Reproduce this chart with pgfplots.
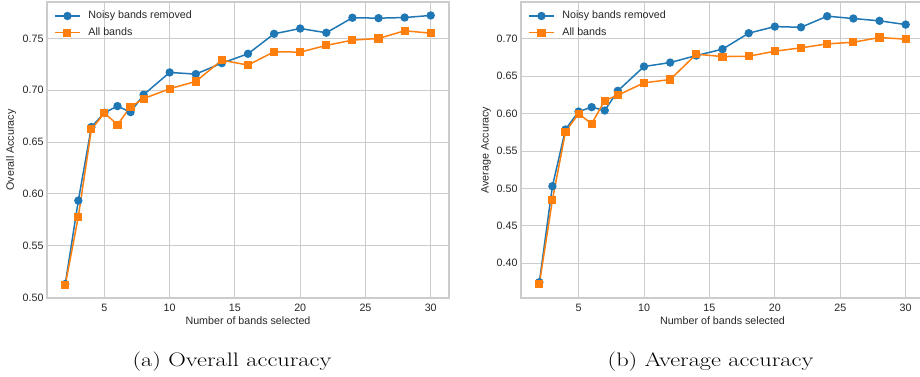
\documentclass[border=0pt]{standalone}
\usepackage{fontspec}
\usepackage{graphicx}
\usepackage{pgfplots}
\pgfplotsset{compat=1.18}
\newfontfamily\arialfont{Liberation Sans}
\definecolor{mplblue}{HTML}{1F77B4}
\definecolor{mplorange}{HTML}{FF7F0E}
\definecolor{gridgray}{HTML}{CCCCCC}
\definecolor{txt}{HTML}{262626}
\pgfplotsset{
  sbstyle/.style={
    scale only axis,
    anchor=south west,
    height=296pt,
    xmin=0.6, xmax=31.4,
    xtick={5,10,15,20,25,30},
    grid=major,
    major grid style={draw=gridgray, line width=1pt},
    axis line style={draw=gridgray, line width=1.25pt},
    major tick length=0pt,
    tick label style={font=\arialfont\fontsize{10.7}{12}\selectfont, text=txt},
    /pgf/number format/assume math mode=true,
    yticklabel style={/pgf/number format/.cd, fixed, fixed zerofill, precision=2},
    xticklabel style={yshift=-2.5pt},
    every axis x label/.style={at={(rel axis cs:0.5,0)}, anchor=base, yshift=-26.6pt,
      font=\arialfont\fontsize{10.7}{12}\selectfont, text=txt},
    legend style={at={(rel axis cs:0,1)}, anchor=north west, xshift=7pt, yshift=-8.5pt,
      draw=none, fill=none, inner sep=0pt, row sep=6pt, column sep=7.7pt,
      font=\arialfont\fontsize{10.7}{12}\selectfont, text=txt,
      nodes={inner sep=0pt, text height=8pt, text depth=2.6pt}},
    legend cell align=left,
    legend image code/.code={\draw[mark repeat=2,mark phase=2,#1] plot coordinates {(0pt,0pt) (12.5pt,0pt) (25pt,0pt)};},
  },
  blueline/.style={color=mplblue, line width=1.5pt, mark=*, mark size=3.4pt, mark options={solid}},
  orangeline/.style={color=mplorange, line width=1.5pt, mark=square*, mark size=3.3pt, mark options={solid}},
}
\begin{document}
\begin{tikzpicture}
\useasboundingbox (0pt,0pt) rectangle (920pt,377pt);
\begin{axis}[sbstyle, at={(47pt,79pt)}, width=402pt,
  ymin=0.4995, ymax=0.7852,
  ytick={0.50,0.55,0.60,0.65,0.70,0.75},
  xlabel={Number of bands selected},
  ylabel={Overall Accuracy},
  every axis y label/.style={at={(rel axis cs:0,0.5)}, anchor=center, rotate=90, yshift=36pt,
    font=\arialfont\fontsize{10.7}{12}\selectfont, text=txt},
]
\addplot[blueline] coordinates {(2,0.513)(3,0.5935)(4,0.6645)(5,0.6783)(6,0.6847)(7,0.6789)(8,0.6957)(10,0.7172)(12,0.7156)(14,0.7262)(16,0.7352)(18,0.7545)(20,0.7596)(22,0.7555)(24,0.770)(26,0.7696)(28,0.7702)(30,0.7722)};
\addlegendentry{Noisy bands removed}
\addplot[orangeline] coordinates {(2,0.512)(3,0.578)(4,0.6622)(5,0.678)(6,0.6668)(7,0.6841)(8,0.6919)(10,0.7015)(12,0.7085)(14,0.7291)(16,0.7243)(18,0.7372)(20,0.7368)(22,0.7433)(24,0.7484)(26,0.75)(28,0.7574)(30,0.7551)};
\addlegendentry{All bands}
\end{axis}
\begin{axis}[sbstyle, at={(521pt,79pt)}, width=403pt,
  ymin=0.3535, ymax=0.7493,
  ytick={0.40,0.45,0.50,0.55,0.60,0.65,0.70},
  xlabel={Number of bands selected},
  ylabel={Average Accuracy},
  every axis y label/.style={at={(rel axis cs:0,0.5)}, anchor=center, rotate=90, yshift=35pt,
    font=\arialfont\fontsize{10.7}{12}\selectfont, text=txt},
]
\addplot[blueline] coordinates {(2,0.3746)(3,0.503)(4,0.5788)(5,0.6028)(6,0.6087)(7,0.6042)(8,0.6305)(10,0.663)(12,0.6683)(14,0.6777)(16,0.6862)(18,0.7076)(20,0.7164)(22,0.7155)(24,0.7303)(26,0.7272)(28,0.7241)(30,0.7191)};
\addlegendentry{Noisy bands removed}
\addplot[orangeline] coordinates {(2,0.3719)(3,0.4846)(4,0.5757)(5,0.6001)(6,0.5864)(7,0.6175)(8,0.6247)(10,0.6412)(12,0.6456)(14,0.6795)(16,0.6763)(18,0.6768)(20,0.6835)(22,0.688)(24,0.6933)(26,0.6955)(28,0.7018)(30,0.6996)};
\addlegendentry{All bands}
\end{axis}
\node[anchor=base, inner sep=0pt, font=\fontsize{19.5}{23}\selectfont] at (232pt,10pt) {\scalebox{1.25}[1.0]{(a) Overall accuracy}};
\node[anchor=base, inner sep=0pt, font=\fontsize{19.5}{23}\selectfont] at (710.5pt,10pt) {\scalebox{1.25}[1.0]{(b) Average accuracy}};
\end{tikzpicture}
\end{document}
